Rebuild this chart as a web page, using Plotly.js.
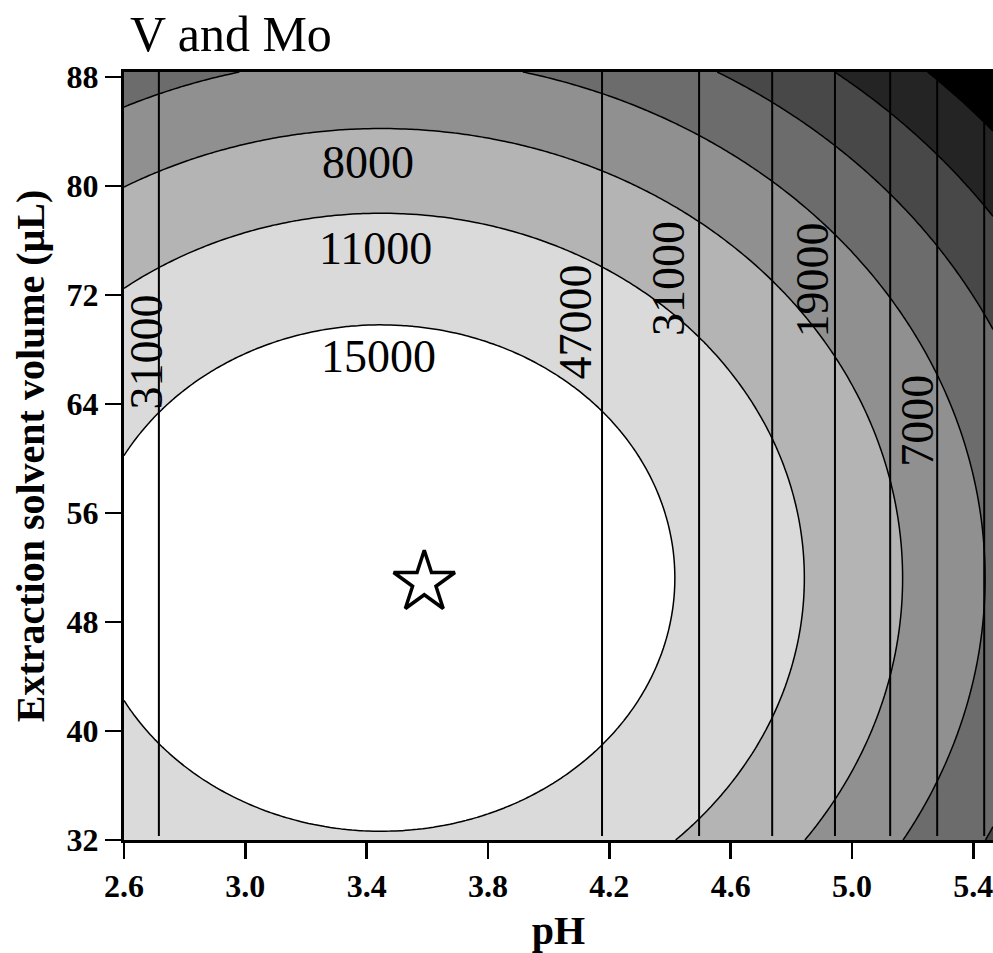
<!DOCTYPE html>
<html><head><meta charset="utf-8">
<script src="https://cdn.plot.ly/plotly-3.0.1.min.js"></script>
<style>html,body{margin:0;padding:0;background:#fff}</style>
</head><body><div id="chart" style="width:993px;height:953px"></div>
<script>
// ---- V response: quadratic response surface (coefficients) ----
const vPeak = [18253];                 // V at the optimum
const vOptimum = [3.4477, 51.22];      // pH, extraction volume at V maximum
const vCurvature = [3468.5, 9.426];    // loss per unit^2 in pH and in volume
const vLevelStart = [-6000];
const vLevelEnd = [15000];
const vLevelStep = [3500];
const vLabelText = ['15000', '11000', '8000'];
const vLabelPH = [3.438, 3.429, 3.405];
const vLabelVol = [67.44, 75.41, 81.7];

// ---- Mo response: contour lines (vertical) ----
const moLinePH = [2.715, 4.176, 4.496, 4.737, 4.944, 5.126, 5.281, 5.436];
const moLabelText = ['31000', '47000', '31000', '19000', '7000'];
const moLabelPH = [2.674, 4.087, 4.395, 4.873, 5.216];
const moLabelVol = [67.8, 69.97, 73.2, 73.09, 62.8];

// ---- optimum point (star) ----
const optPH = [3.59];
const optVol = [50.9];

// ---- axes ----
const xRange = [2.6, 5.465];
const yRange = [32, 88.35];
const xTicks = [2.6, 3.0, 3.4, 3.8, 4.2, 4.6, 5.0, 5.4];
const yTicks = [32, 40, 48, 56, 64, 72, 80, 88];
const moLineBottom = [32.3];

const SERIF = '"Liberation Serif", "Times New Roman", Times, serif';

// grid for the response surface
const N = 161;
const gx = [], gy = [];
for (let i = 0; i < N; i++) {
  gx.push(xRange[0] + (xRange[1] - xRange[0]) * i / (N - 1));
  gy.push(yRange[0] + (yRange[1] - yRange[0]) * i / (N - 1));
}
const gz = gy.map(v => gx.map(p =>
  vPeak[0] - vCurvature[0] * Math.pow(p - vOptimum[0], 2) - vCurvature[1] * Math.pow(v - vOptimum[1], 2)));

const vTrace = {
  type: 'contour', x: gx, y: gy, z: gz,
  autocontour: false,
  contours: {start: vLevelStart[0], end: vLevelEnd[0], size: vLevelStep[0], coloring: 'fill', showlines: true},
  line: {color: '#000', width: 1.5, smoothing: 1},
  colorscale: [
    [0 / 7, '#000000'], [1 / 7, '#242424'], [2 / 7, '#484848'], [3 / 7, '#6c6c6c'],
    [4 / 7, '#909090'], [5 / 7, '#b4b4b4'], [6 / 7, '#dadada'], [7 / 7, '#ffffff']
  ],
  showscale: false, hoverinfo: 'skip'
};

const mx = [], my = [];
moLinePH.forEach(p => { mx.push(p, p, null); my.push(moLineBottom[0], yRange[1], null); });
const moTrace = {
  type: 'scatter', mode: 'lines', x: mx, y: my,
  line: {color: '#000', width: 2}, hoverinfo: 'skip', showlegend: false
};

const starTrace = {
  type: 'scatter', mode: 'markers', x: optPH, y: optVol,
  marker: {symbol: 'star', size: 46, color: '#ffffff', line: {color: '#000', width: 3.5}},
  hoverinfo: 'skip', showlegend: false
};

const annotations = [];
vLabelText.forEach((t, i) => annotations.push({
  x: vLabelPH[i], y: vLabelVol[i], xref: 'x', yref: 'y', text: t, showarrow: false,
  font: {family: SERIF, size: 46, color: '#000'}
}));
moLabelText.forEach((t, i) => annotations.push({
  x: moLabelPH[i], y: moLabelVol[i], xref: 'x', yref: 'y', text: t, showarrow: false, textangle: -90,
  font: {family: SERIF, size: 46, color: '#000'}
}));

const layout = {
  width: 993, height: 953,
  paper_bgcolor: '#fff', plot_bgcolor: '#fff',
  margin: {l: 124, r: 0, t: 72, b: 113},
  showlegend: false,
  title: {
    text: 'V and Mo', font: {family: SERIF, size: 50, color: '#000'},
    x: 130 / 993, xanchor: 'left', xref: 'container',
    y: 1 - 33 / 953, yanchor: 'middle', yref: 'container'
  },
  xaxis: {
    range: xRange, tickvals: xTicks, tickformat: '.1f',
    ticks: 'outside', ticklen: 16, tickwidth: 2.5, tickcolor: '#000',
    ticklabeloverflow: 'allow',
    showline: true, linewidth: 3, linecolor: '#000', mirror: true,
    showgrid: false, zeroline: false,
    tickfont: {family: SERIF, size: 32, color: '#000', weight: 'bold'},
    title: {text: 'pH', font: {family: SERIF, size: 40, color: '#000', weight: 'bold'}, standoff: 18}
  },
  yaxis: {
    range: yRange, tickvals: yTicks,
    ticks: 'outside', ticklen: 16, tickwidth: 2.5, tickcolor: '#000',
    showline: true, linewidth: 3, linecolor: '#000',
    showgrid: false, zeroline: false,
    tickfont: {family: SERIF, size: 32, color: '#000', weight: 'bold'},
    title: {text: 'Extraction solvent volume (μL)', font: {family: SERIF, size: 40, color: '#000', weight: 'bold'}, standoff: 10}
  },
  annotations: annotations
};

Plotly.newPlot('chart', [vTrace, moTrace, starTrace], layout, {staticPlot: true, displayModeBar: false});
</script></body></html>
